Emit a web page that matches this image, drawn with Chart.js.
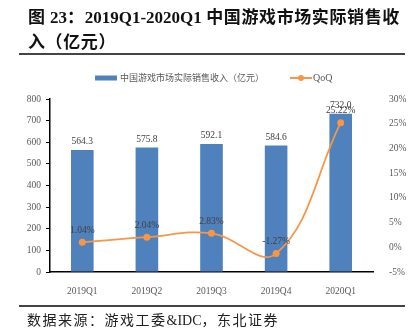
<!DOCTYPE html>
<html>
<head>
<meta charset="utf-8">
<script src="https://cdn.jsdelivr.net/npm/chart.js@4"></script>
<style>
  html, body { margin: 0; padding: 0; background: #fff; }
  #page { position: relative; width: 414px; height: 331px; overflow: hidden; }
  #chart { position: absolute; left: 0; top: 0; }
  .title {
    position: absolute; left: 28px; font-family: "Noto Sans CJK SC", sans-serif;
    font-weight: bold; font-size: 17px; letter-spacing: 0.6px; color: #111; white-space: nowrap;
  }
  .num { font-family: "Liberation Serif", serif; letter-spacing: 0; }
  .rule { position: absolute; left: 19px; width: 386px; height: 1.5px; background: #444; }
  .source {
    position: absolute; left: 27px; top: 309px; font-family: "Noto Sans CJK SC", sans-serif;
    font-size: 14px; letter-spacing: 1.5px; color: #222; white-space: nowrap;
  }
</style>
</head>
<body>
<div id="page">
  <canvas id="chart" width="414" height="331"></canvas>
  <div class="title" style="top:3px">图 <span class="num">23</span>：<span class="num">2019Q1-2020Q1</span> 中国游戏市场实际销售收</div>
  <div class="title" style="top:28px">入（亿元）</div>
  <div class="rule" style="top:53px"></div>
  <div class="rule" style="top:305px"></div>
  <div class="source">数据来源：游戏工委<span class="num">&amp;IDC</span>，东北证券</div>
</div>
<script>
// 季度、收入（亿元）和环比
const quarters = ['2019Q1', '2019Q2', '2019Q3', '2019Q4', '2020Q1'];
const revenue = [564.3, 575.8, 592.1, 584.6, 732.0];
const qoq = [1.04, 2.04, 2.83, -1.27, 25.22];
const revenueLabel = '中国游戏市场实际销售收入（亿元）';
const qoqLabel = 'QoQ';

const BLUE = '#4F81BD';
const ORANGE = '#F79646';
const GREY = '#595959';
const serif = '"Liberation Serif", "Times New Roman", serif';

// 柱顶和折线点上的数值
const valueLabels = {
  id: 'valueLabels',
  afterDatasetsDraw(chart) {
    const ctx = chart.ctx;
    ctx.save();
    ctx.font = '9.5px ' + serif;
    ctx.fillStyle = '#404040';
    ctx.textAlign = 'center';
    ctx.textBaseline = 'middle';
    chart.getDatasetMeta(1).data.forEach((bar, i) => {
      ctx.fillText(revenue[i].toFixed(1), bar.x, bar.y - 8);
    });
    chart.getDatasetMeta(0).data.forEach((pt, i) => {
      ctx.fillText(qoq[i].toFixed(2) + '%', pt.x, pt.y - 12);
    });
    ctx.restore();
  }
};

// 图例：蓝色色块 + 橙色带点线段
const legendRow = {
  id: 'legendRow',
  afterDraw(chart) {
    const ctx = chart.ctx;
    const y = 78;
    ctx.save();
    ctx.fillStyle = BLUE;
    ctx.fillRect(95, y - 2.5, 22, 5);
    ctx.font = '9px "Noto Sans CJK SC", sans-serif';
    ctx.fillStyle = GREY;
    ctx.textBaseline = 'middle';
    ctx.textAlign = 'left';
    ctx.fillText(revenueLabel, 120, y);
    ctx.strokeStyle = ORANGE;
    ctx.lineWidth = 2;
    ctx.beginPath();
    ctx.moveTo(290, y);
    ctx.lineTo(312, y);
    ctx.stroke();
    ctx.fillStyle = ORANGE;
    ctx.beginPath();
    ctx.arc(301, y, 3, 0, Math.PI * 2);
    ctx.fill();
    ctx.font = '10px ' + serif;
    ctx.fillStyle = GREY;
    ctx.fillText(qoqLabel, 313, y);
    ctx.restore();
  }
};

new Chart(document.getElementById('chart'), {
  data: {
    labels: quarters,
    datasets: [
      {
        type: 'line',
        label: qoqLabel,
        data: qoq,
        yAxisID: 'y1',
        borderColor: ORANGE,
        backgroundColor: ORANGE,
        borderWidth: 1.75,
        pointRadius: 3.5,
        pointBackgroundColor: ORANGE,
        pointBorderWidth: 0,
        tension: 0.4,
        order: 0
      },
      {
        type: 'bar',
        label: revenueLabel,
        data: revenue,
        yAxisID: 'y',
        backgroundColor: BLUE,
        barPercentage: 0.35,
        categoryPercentage: 1,
        order: 1
      }
    ]
  },
  options: {
    responsive: false,
    animation: false,
    layout: { padding: { top: 99, left: 0, right: 0, bottom: 0 } },
    plugins: { legend: { display: false }, tooltip: { enabled: false } },
    scales: {
      x: {
        grid: { display: false },
        border: { display: true, color: '#000', width: 1.5 },
        ticks: { color: GREY, font: { family: serif, size: 9.5 }, padding: 6 },
        afterFit(scale) { scale.height = 59; }
      },
      y: {
        position: 'left',
        min: 0,
        max: 800,
        ticks: { stepSize: 100, color: GREY, font: { family: serif, size: 9.5 }, padding: 5 },
        grid: { drawOnChartArea: false, drawTicks: true, tickLength: 4, color: '#000' },
        border: { display: true, color: '#000', width: 1.5 },
        afterFit(scale) { scale.width = 50; }
      },
      y1: {
        position: 'right',
        min: -5,
        max: 30,
        ticks: {
          stepSize: 5,
          color: GREY,
          font: { family: serif, size: 9.5 },
          padding: 8,
          callback: v => v + '%'
        },
        grid: { display: false },
        border: { display: false },
        afterFit(scale) { scale.width = 41; }
      }
    }
  },
  plugins: [valueLabels, legendRow]
});
</script>
</body>
</html>
